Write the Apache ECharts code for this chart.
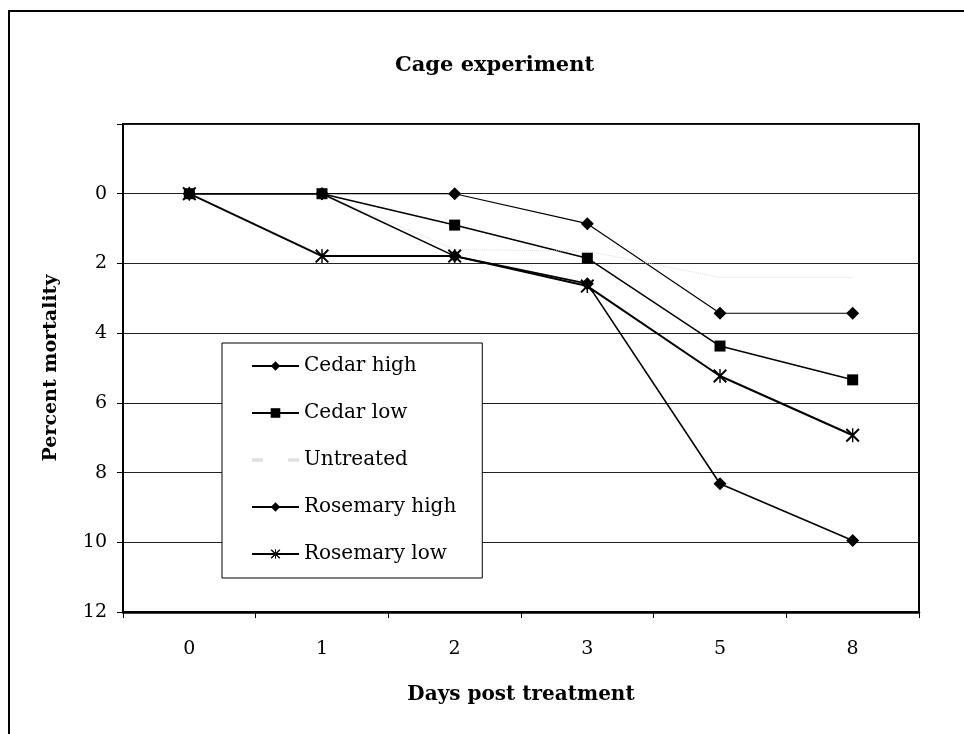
<!DOCTYPE html>
<html>
<head>
<meta charset="utf-8">
<script src="https://cdn.jsdelivr.net/npm/echarts@6/dist/echarts.min.js"></script>
<style>
html,body{margin:0;padding:0;background:#fff;}
#chart{width:964px;height:734px;}
</style>
</head>
<body>
<div id="chart"></div>
<script>
var days = ['0', '1', '2', '3', '5', '8'];
var cedarHigh = [0, 0, 0, 0.86, 3.43, 3.43];
var cedarLow = [0, 0, 0.9, 1.85, 4.37, 5.34];
var untreated = [0, 0, 1.6, 1.65, 2.4, 2.4];
var rosemaryHigh = [0, 0, 1.79, 2.58, 8.32, 9.95];
var rosemaryLow = [0, 1.79, 1.79, 2.65, 5.23, 6.93];
var seriesNames = ['Cedar high', 'Cedar low', 'Untreated', 'Rosemary high', 'Rosemary low'];

var serif = '"DejaVu Serif", "Liberation Serif", serif';
var starPath = 'path://M9,0 L11,0 L11,20 L9,20 Z M0,2 L2,0 L20,18 L18,20 Z M18,0 L20,2 L2,20 L0,18 Z';

function mkSeries(name, data, symbol, size, width, color, type) {
  return {
    name: name, type: 'line', data: data,
    symbol: symbol, symbolSize: size, showSymbol: symbol !== 'none',
    lineStyle: {color: color, width: width, type: type || 'solid'},
    itemStyle: {color: color},
    emphasis: {disabled: true},
    animation: false, z: 3
  };
}

var legendData = seriesNames.map(function (n) {
  if (n === 'Untreated') {
    return {name: n, icon: 'path://M0,0 L3,0 L3,1 L0,1 Z M10,0 L13,0 L13,1 L10,1 Z', itemStyle: {color: '#e0e0e0'}};
  }
  return {name: n};
});

var chart = echarts.init(document.getElementById('chart'));
chart.setOption({
  animation: false,
  backgroundColor: '#fff',
  title: {
    text: 'Cage experiment', left: 390, top: 50,
    textStyle: {fontFamily: serif, fontSize: 21, fontWeight: 'bold', color: '#000'}
  },
  graphic: [
    {type: 'polyline', shape: {points: [[9, 734], [9, 11], [964, 11]]},
     style: {stroke: '#000', lineWidth: 2, fill: null}, silent: true}
  ],
  grid: {left: 123, right: 45, top: 124, bottom: 122, show: true, borderColor: '#000', borderWidth: 2, backgroundColor: 'transparent'},
  legend: {
    orient: 'vertical', left: 222, top: 343,
    data: legendData,
    backgroundColor: '#fff', borderColor: '#000', borderWidth: 1,
    padding: [13, 26, 14, 29],
    itemWidth: 47, itemHeight: 12, itemGap: 27,
    textStyle: {fontFamily: serif, fontSize: 20, color: '#000', lineHeight: 20},
    selectedMode: false
  },
  xAxis: {
    type: 'category', data: days, boundaryGap: true, position: 'bottom',
    name: 'Days post treatment', nameLocation: 'middle', nameGap: 73,
    nameTextStyle: {fontFamily: serif, fontSize: 20, fontWeight: 'bold', color: '#000'},
    axisLine: {onZero: false, lineStyle: {color: '#000', width: 2.5}},
    axisTick: {show: true, interval: 0, length: 6, lineStyle: {color: '#000', width: 1}},
    axisLabel: {fontFamily: serif, fontSize: 19, color: '#000', margin: 28, interval: 0},
    splitLine: {show: false}
  },
  yAxis: {
    type: 'value', inverse: true, min: -2, max: 12, interval: 2,
    name: 'Percent mortality', nameLocation: 'middle', nameGap: 62, nameRotate: 90,
    nameTextStyle: {fontFamily: serif, fontSize: 19, fontWeight: 'bold', color: '#000'},
    axisLine: {show: true, onZero: false, lineStyle: {color: '#000', width: 1.5}},
    axisTick: {show: true, length: 6, lineStyle: {color: '#000', width: 1}},
    axisLabel: {fontFamily: serif, fontSize: 19, color: '#000', margin: 16,
      formatter: function (v) { return v < 0 ? '' : String(v); }},
    splitLine: {show: true, lineStyle: {color: '#222', width: 1}}
  },
  series: [
    mkSeries(seriesNames[0], cedarHigh, 'diamond', 13, 1.2, '#000'),
    mkSeries(seriesNames[1], cedarLow, 'rect', 11, 1.5, '#000'),
    mkSeries(seriesNames[2], untreated, 'none', 0, 1, '#dcdcdc', 'dotted'),
    mkSeries(seriesNames[3], rosemaryHigh, 'diamond', 13, 1.6, '#000'),
    mkSeries(seriesNames[4], rosemaryLow, starPath, 14, 2, '#000')
  ]
});
</script>
</body>
</html>
